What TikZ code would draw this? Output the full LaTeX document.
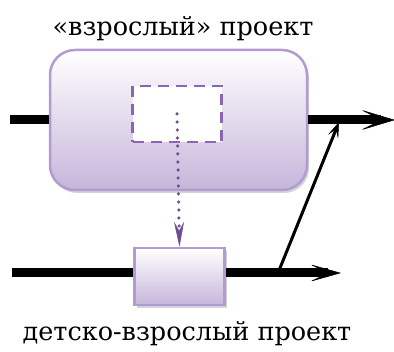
\documentclass[tikz,border=0pt]{standalone}
\usepackage{fontspec}
\setmainfont{DejaVu Serif}
\usepackage{tikz}
\usepackage{xcolor}
\usetikzlibrary{arrows.meta,shadows}

\definecolor{borde}{HTML}{B09CD0}
\definecolor{fondo}{HTML}{C6B6DA}
\definecolor{violeta}{HTML}{6E4C94}
\definecolor{discont}{HTML}{8A66B2}

\begin{document}
\begin{tikzpicture}[x=1pt, y=-1pt,
			 bloque/.style={draw=borde, line width=2.5pt, top color=white, bottom color=fondo,
			 	drop shadow={shadow xshift=2pt, shadow yshift=-3pt, opacity=0.35}, inner sep=0pt},
			 flujo/.style={line width=9pt, -{Stealth[length=35pt, width=21pt, inset=21pt, line width=0.5pt]}},
			 hueco/.style={draw=discont, fill=white, dashed, dash pattern=on 11pt off 7pt, line width=2.5pt,
			 	minimum width=89pt, minimum height=56pt, inner sep=0pt},
			 texto/.style={font=\fontsize{25.5}{28}\selectfont, inner sep=0pt}
  		]
	\useasboundingbox (0,0) rectangle (394,352);

	%Creamos los bloques

		\node[bloque, rounded corners=25pt, minimum width=257pt, minimum height=140pt] (grande) at (178.5,120) {};
		\node[hueco] (vacio) at (177,114) {};
		\node[bloque, minimum width=90pt, minimum height=57pt] (peque) at (179.5,276.5) {};
	%Textos
		\node[texto] (titulo) at (183,29) {«взрослый» проект};
		\node[texto] (pie) at (187,334) {детско-взрослый проект};
	%Puntos libres
		\coordinate (ent1) at (10,120);
		\coordinate (sal1) at (395,120);
		\coordinate (ent2) at (12,273);
		\coordinate (sal2) at (341,273);
		\coordinate (union) at (278,273);
		\coordinate (llegada) at (339,122);
	%Flujos
		\draw[line width=9pt] (ent1) -- (grande.west);
		\draw[flujo] (grande.east) -- (sal1);
		\draw[line width=9pt] (ent2) -- (ent2 -| peque.west);
		\draw[flujo, -{Stealth[length=32pt, width=18pt, inset=19pt, line width=0.5pt]}] (ent2 -| peque.east) -- (sal2);
		\draw[line width=3pt, -{Stealth[length=16pt, width=11pt, inset=8pt, line width=0.5pt]}] (union) -- (llegada);
	%Flecha punteada
		\draw[violeta, line width=3.5pt, line cap=round, dash pattern=on 0pt off 8pt,
			-{Stealth[length=25pt, width=10pt, inset=9pt, line width=0.5pt]}] (vacio.center) -- (peque.north);

	\end{tikzpicture}
\end{document}
